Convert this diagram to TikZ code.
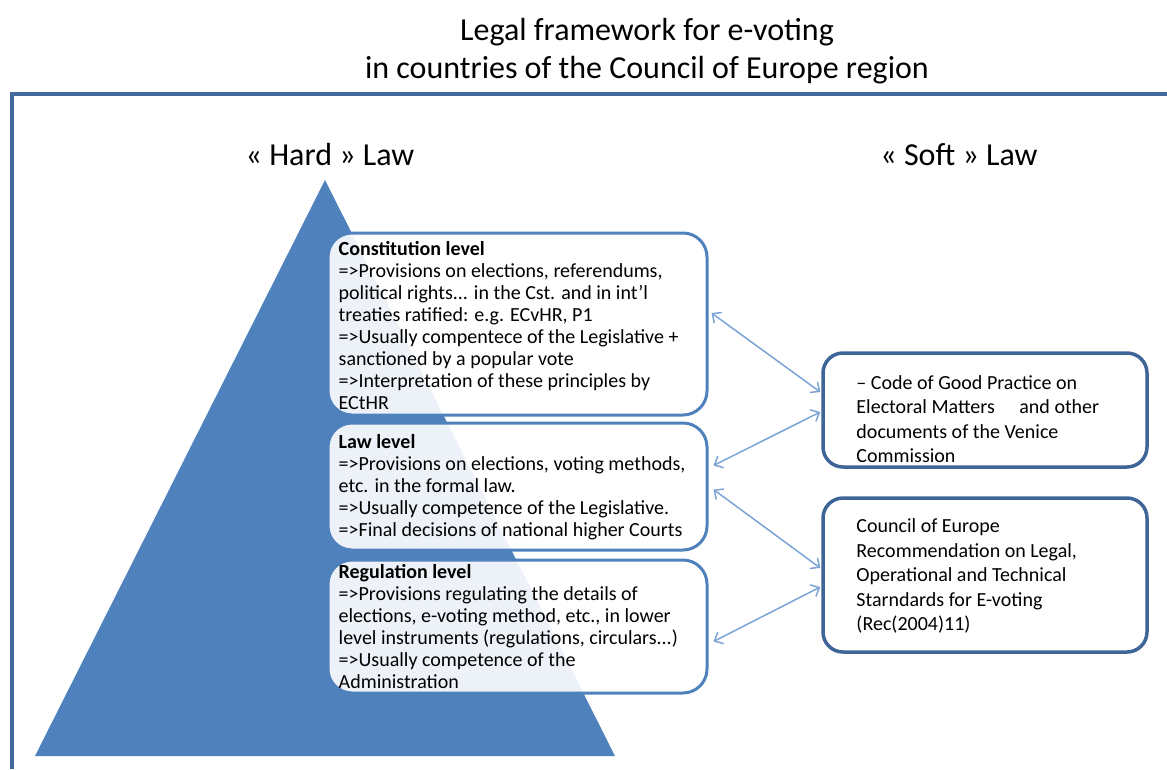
\documentclass[tikz,border=0pt]{standalone}
\usepackage{fontspec}
\setmainfont{Carlito}
\usepackage{tikz}
\usetikzlibrary{calc,arrows.meta}

\definecolor{framecol}{RGB}{67,104,155}
\definecolor{pyrblue}{RGB}{79,129,189}
\definecolor{softcol}{RGB}{62,101,151}
\definecolor{arrcol}{RGB}{123,163,214}

\tikzset{
  hardbox/.style={draw=pyrblue, line width=3pt, rounded corners=24pt, fill=white, fill opacity=0.9, minimum width=379pt, inner sep=0pt},
  softbox/.style={draw=softcol, line width=3.5pt, rounded corners=20pt, fill=white, minimum width=324pt, inner sep=0pt},
  lvltext/.style={align=left, anchor=west, inner sep=0pt, font=\fontsize{20}{22}\selectfont},
  softtext/.style={align=left, anchor=west, inner sep=0pt, font=\fontsize{20}{24.5}\selectfont},
  heading/.style={align=center, font=\fontsize{32}{38}\selectfont},
  link/.style={{Straight Barb[length=7pt,width=13pt]}-{Straight Barb[length=7pt,width=13pt]}, arrcol, line width=1.5pt}
}

\begin{document}
\begin{tikzpicture}[x=1pt, y=-1pt]
        \useasboundingbox (0,0) rectangle (1167,769);

        % titles
        \node[heading] (title) at (647,51) {Legal framework for e-voting\\in countries of the Council of Europe region};
        \node[heading] (hard) at (330,155) {« Hard » Law};
        \node[heading] (soft) at (959,155) {« Soft » Law};

        % frame and pyramid
        \draw[framecol, line width=3.5pt] (12,769) -- (12,94) -- (1167,94);
        \fill[pyrblue] (325,180) -- (615,756) -- (35,756) -- cycle;

        % hard law levels
        \node[hardbox, minimum height=182pt] (const) at (517.5,324) {};
        \node[hardbox, minimum height=127pt] (law) at (517.5,486.5) {};
        \node[hardbox, minimum height=133pt] (reg) at (517.5,626.5) {};

        \node[lvltext] (consttxt) at ($(const.west)+(12,1.5)$) {\textbf{Constitution level}\\
          =>Provisions on elections, referendums,\\
          political rights... in the Cst. and in int'l\\
          treaties ratified: e.g. ECvHR, P1\\
          =>Usually compentece of the Legislative +\\
          sanctioned by a popular vote\\
          =>Interpretation of these principles by\\
          ECtHR};
        \node[lvltext] (lawtxt) at ($(law.west)+(12,1)$) {\textbf{Law level}\\
          =>Provisions on elections, voting methods,\\
          etc. in the formal law.\\
          =>Usually competence of the Legislative.\\
          =>Final decisions of national higher Courts};
        \node[lvltext] (regtxt) at ($(reg.west)+(12,0.5)$) {\textbf{Regulation level}\\
          =>Provisions regulating the details of\\
          elections, e-voting method, etc., in lower\\
          level instruments (regulations, circulars...)\\
          =>Usually competence of the\\
          Administration};

        % soft law
        \node[softbox, minimum height=114pt] (venice) at (985,410) {};
        \node[softbox, minimum height=154pt] (coe) at (985,575) {};

        \node[softtext] (venicetxt) at ($(venice.west)+(35,9)$) {-- Code of Good Practice on\\
          Electoral Matters \quad and other\\
          documents of the Venice\\
          Commission};
        \node[softtext] (coetxt) at ($(coe.west)+(35,1)$) {Council of Europe\\
          Recommendation on Legal,\\
          Operational and Technical\\
          Starndards for E-voting\\
          (Rec(2004)11)};

        % links
        \draw[link] ($(const.east)+(3,-11)$) -- ($(venice.west)+(-1,-18)$);
        \draw[link] ($(law.east)+(5,-21)$) -- ($(venice.west)+(-1,2)$);
        \draw[link] ($(law.east)+(5,3)$) -- ($(coe.west)+(-1,-7)$);
        \draw[link] ($(reg.east)+(5,15)$) -- ($(coe.west)+(-1,12)$);
\end{tikzpicture}
\end{document}
